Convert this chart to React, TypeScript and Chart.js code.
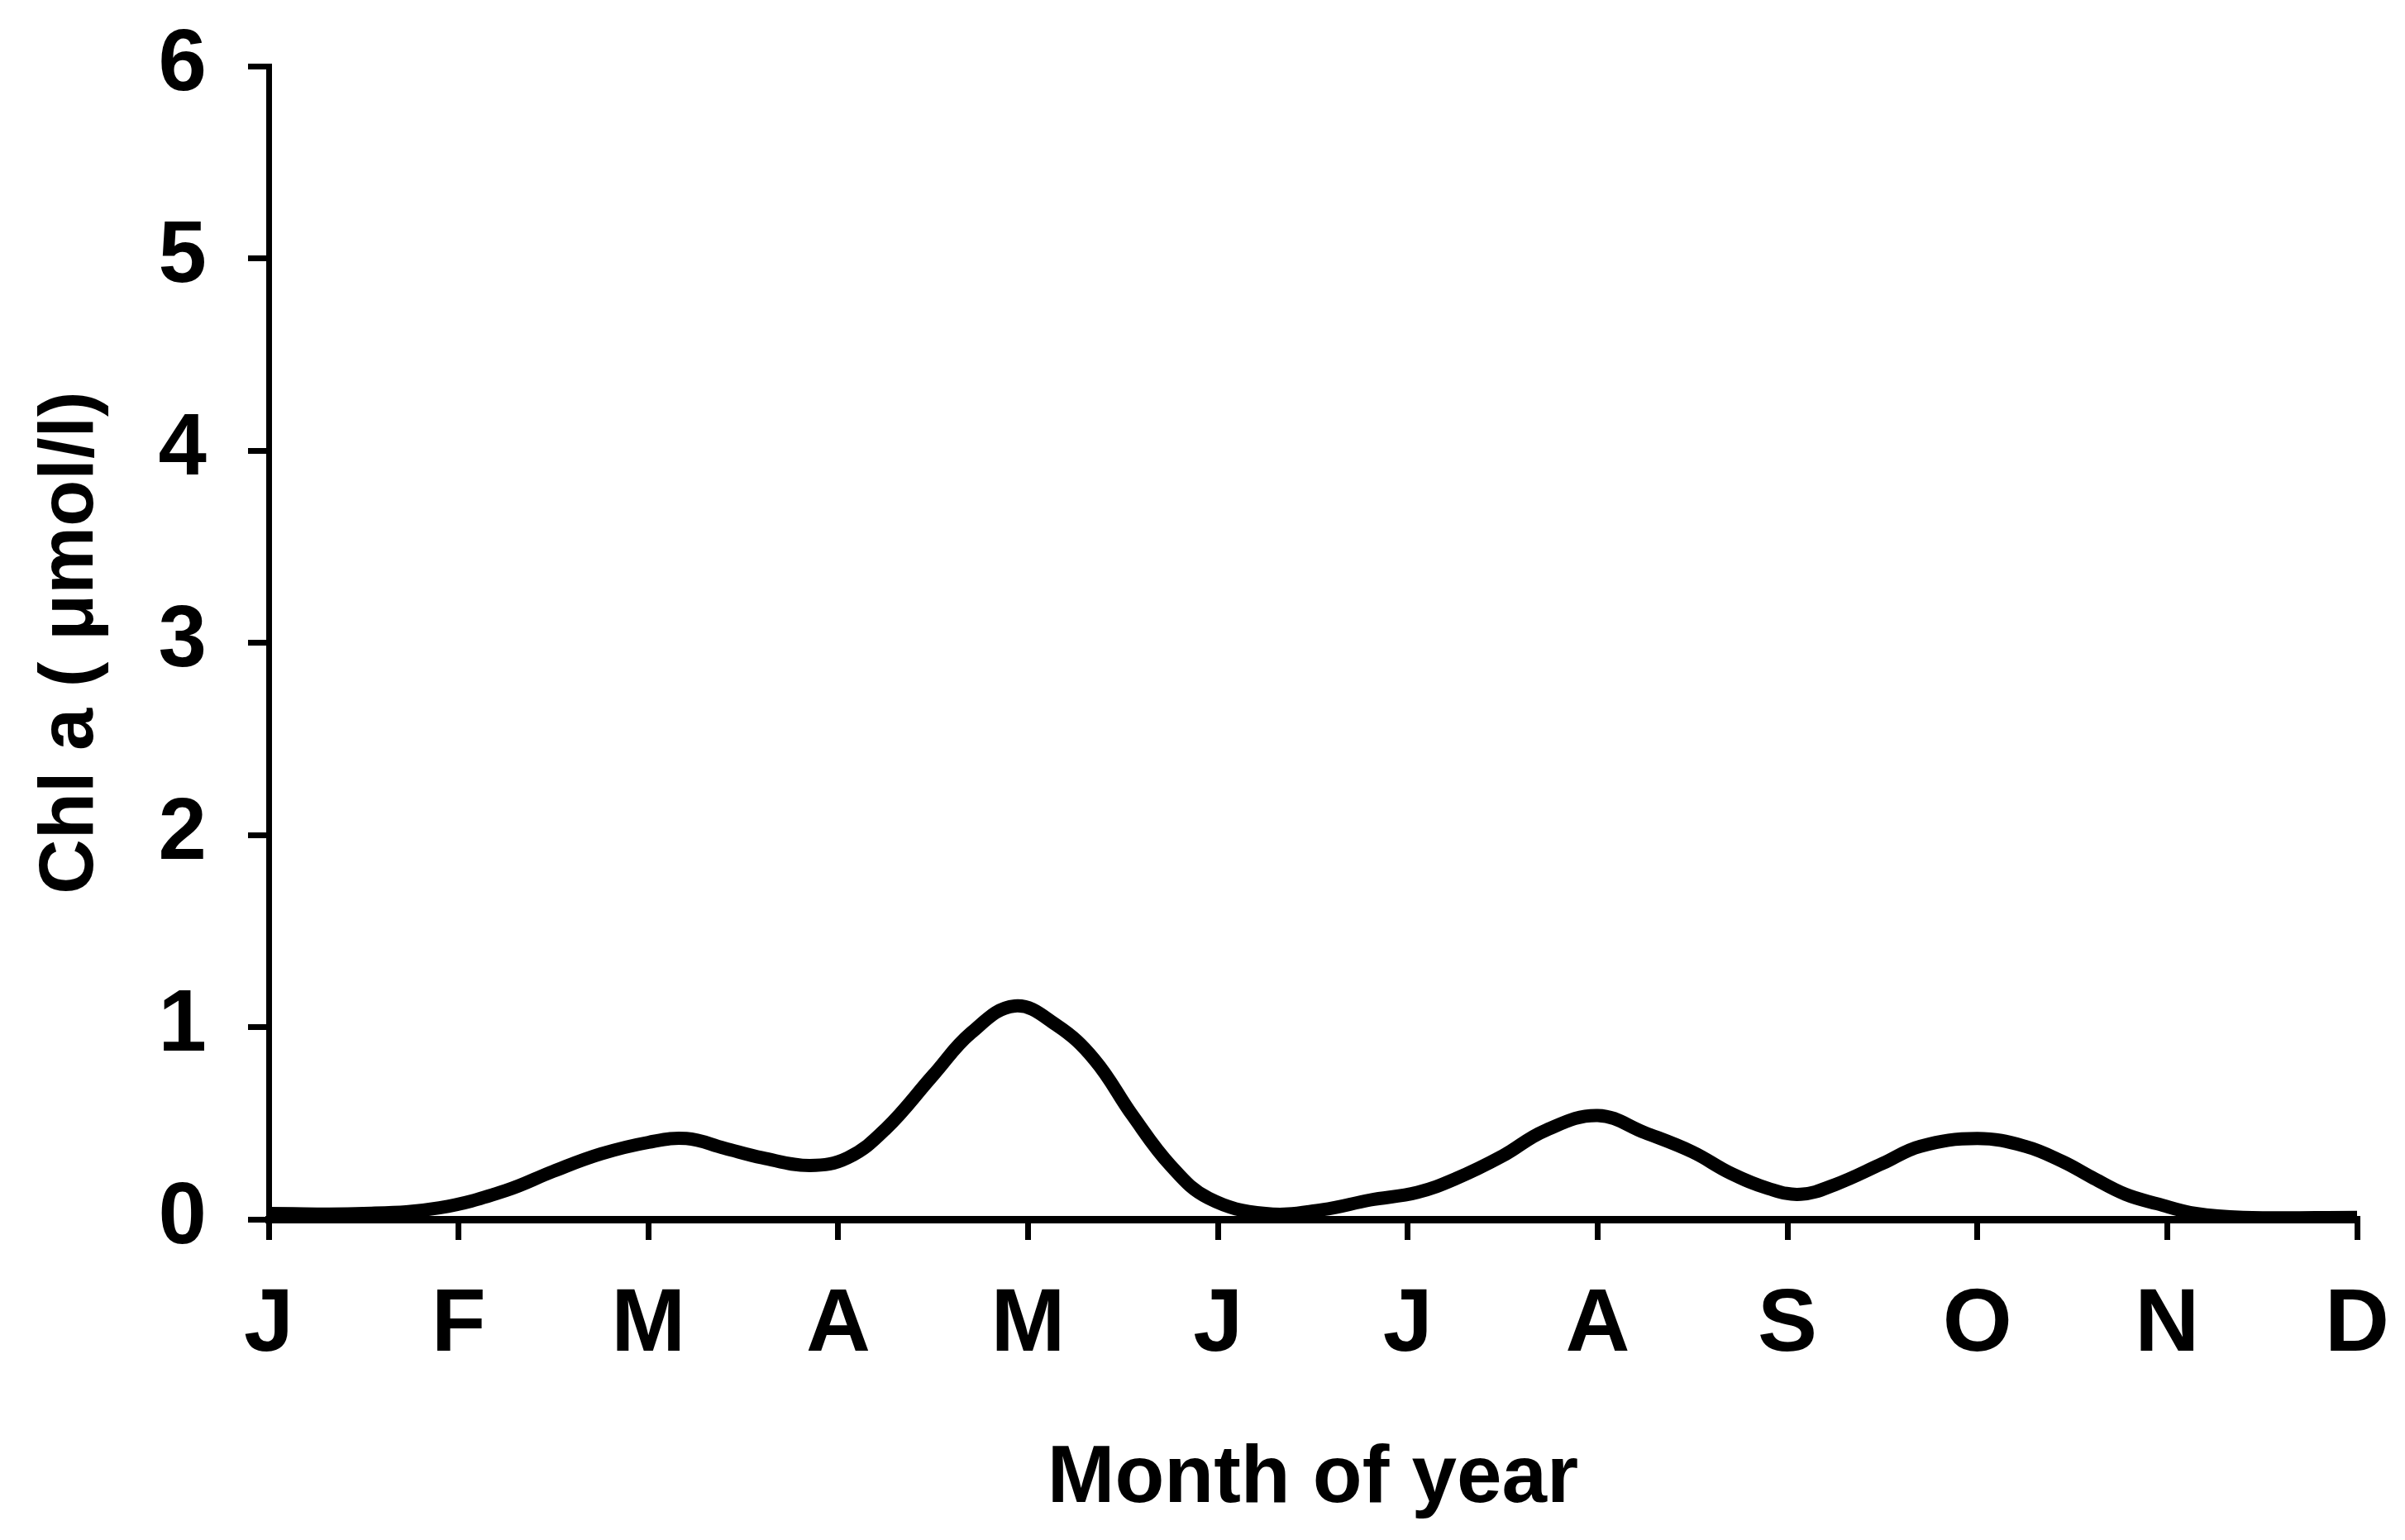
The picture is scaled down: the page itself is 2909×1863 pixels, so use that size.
import React, { useEffect, useRef } from "react";
import { Chart, registerables } from "chart.js";
Chart.register(...registerables);

const monthLabels = ["J", "F", "M", "A", "M", "J", "J", "A", "S", "O", "N", "D"];
// positions in months after the start of January (0 = J, 11 = D)
const samplePositions = [
  0, 0.5, 0.9, 1.25, 1.5, 1.75, 2.0, 2.2, 2.4, 2.6, 2.85, 3.05, 3.25, 3.5, 3.7, 3.93, 4.15, 4.35, 4.55, 4.75, 4.95,
  5.25, 5.55, 5.8, 6.05, 6.25, 6.5, 6.72, 7.0, 7.25, 7.5, 7.7, 7.9, 8.07, 8.25, 8.5, 8.7, 9.0, 9.25, 9.45, 9.6, 9.78,
  9.95, 10.15, 10.4, 11,
];
const chlValues = [
  0.03, 0.03, 0.06, 0.15, 0.25, 0.34, 0.4, 0.42, 0.37, 0.32, 0.28, 0.32, 0.47, 0.75, 0.97, 1.11, 1.01, 0.83, 0.54, 0.28, 0.11,
  0.03, 0.05, 0.1, 0.14, 0.21, 0.33, 0.46, 0.54, 0.45, 0.35, 0.24, 0.16, 0.13, 0.18, 0.29, 0.38, 0.42, 0.38, 0.3, 0.22, 0.13,
  0.08, 0.03, 0.01, 0.01,
];
const yTicks = [0, 1, 2, 3, 4, 5, 6];

const FAMILY = "'Liberation Sans', Arial, Helvetica, sans-serif";

export default function App() {
  const ref = useRef<HTMLCanvasElement>(null);
  useEffect(() => {
    document.body.style.margin = "0";
    const chart = new Chart(ref.current!, {
      type: "line",
      data: {
        datasets: [
          {
            data: samplePositions.map((x, i) => ({ x, y: chlValues[i] })),
            borderColor: "#000",
            borderWidth: 16,
            pointRadius: 0,
            tension: 0.4,
            fill: false,
          },
        ],
      },
      options: {
        responsive: false,
        animation: false,
        devicePixelRatio: 1,
        layout: { padding: { left: 0, top: 80, right: 58, bottom: 0 } },
        plugins: { legend: { display: false }, tooltip: { enabled: false } },
        scales: {
          x: {
            type: "linear",
            min: 0,
            max: 11,
            afterFit: (s: any) => {
              s.height = 388;
              s.paddingLeft = 0;
              s.paddingRight = 0;
            },
            afterBuildTicks: (s: any) => {
              s.ticks = monthLabels.map((_, i) => ({ value: i }));
            },
            ticks: {
              autoSkip: false,
              maxRotation: 0,
              padding: 39,
              color: "#000",
              font: { family: FAMILY, size: 108, weight: "bold" },
              callback: (v: any) => monthLabels[Math.round(v)] ?? "",
            },
            grid: { drawOnChartArea: false, tickLength: 25, color: "#000", lineWidth: 7 },
            border: { color: "#000", width: 9 },
            title: {
              display: true,
              text: "Month of year",
              color: "#000",
              font: { family: FAMILY, size: 98, weight: "bold" },
              padding: { top: 0, bottom: 14 },
            },
          },
          y: {
            type: "linear",
            min: 0,
            max: 6,
            afterFit: (s: any) => {
              s.width = 325;
              s.paddingTop = 0;
              s.paddingBottom = 0;
            },
            afterBuildTicks: (s: any) => {
              s.ticks = yTicks.map((v) => ({ value: v }));
            },
            ticks: {
              padding: 50,
              color: "#000",
              font: { family: FAMILY, size: 105, weight: "bold" },
              callback: (v: any) => String(v),
            },
            grid: { drawOnChartArea: false, tickLength: 25, color: "#000", lineWidth: 7 },
            border: { color: "#000", width: 7 },
            title: {
              display: true,
              text: "Chl a ( \u03bcmol/l)",
              color: "#000",
              font: { family: FAMILY, size: 92, weight: "bold" },
              padding: { top: 31, bottom: 0 },
            },
          },
        },
      },
    } as any);
    return () => chart.destroy();
  }, []);
  return <canvas ref={ref} width={2909} height={1863} style={{ display: "block" }} />;
}
